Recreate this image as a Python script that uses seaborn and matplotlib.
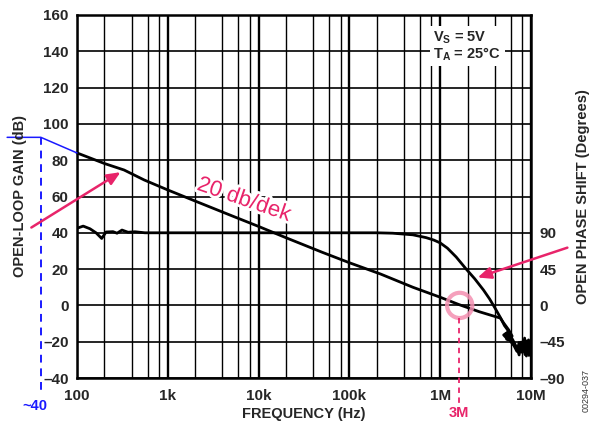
import numpy as np
import pandas as pd
import matplotlib
matplotlib.use("Agg")
import matplotlib.pyplot as plt
import matplotlib.ticker as mticker
import matplotlib.patheffects as pe
import seaborn as sns

# ---------------- data ----------------
gain_freq = [100, 200, 330, 550, 1e3, 2e3, 5e3, 1e4, 2e4, 5e4, 1e5, 2.2e5, 5e5,
             1e6, 1.6e6, 2.7e6, 4.6e6, 5.0e6, 5.7e6, 6.2e6, 5.6e6, 5.0e6, 5.6e6,
             6.3e6, 7.0e6, 7.4e6, 7.8e6, 8.1e6, 8.5e6, 8.9e6, 9.4e6, 9.9e6]
gain_db = [84, 78.2, 74.6, 69.1, 63.6, 57.5, 49.5, 43.5, 37.3, 29.3, 23.5, 17.3, 10,
           4.5, 0.5, -3.5, -7, -9.7, -13.6, -16.9, -19, -16.3, -14.6,
           -19, -23.5, -27.3, -20.2, -25.7, -18, -27.9, -19, -24.6]

phase_freq = [100, 117, 139, 162, 187, 209, 249, 276, 313, 365, 435, 560, 1e3,
              1e4, 1e5, 2e5, 3e5, 5e5, 7e5, 8.5e5, 1e6, 1.2e6, 1.5e6, 1.9e6, 2.4e6,
              3.0e6, 3.5e6, 4.0e6, 4.6e6,
              5.1e6, 5.5e6, 5.9e6, 5.4e6, 5.3e6, 6.0e6, 6.5e6, 7.0e6, 7.4e6, 7.8e6,
              8.2e6, 8.6e6, 9.0e6, 9.5e6, 9.9e6]
phase_deg = [95.6, 98.3, 95, 90, 83, 91, 91.4, 89.5, 93.4, 90.7, 91.3, 90, 90,
             90, 90, 90, 89.5, 87.5, 84, 81, 77.5, 71, 60, 46, 33,
             19, 8, -3, -15,
             -25, -30, -38, -42, -35, -45, -50, -57, -46, -58,
             -50, -61, -44, -62, -50]

# extrapolated low-frequency gain (blue)
ext_freq = [17, 40, 100]
ext_db = [92.6, 92.6, 84]

x_ticks = [100, 1e3, 1e4, 1e5, 1e6, 1e7]
x_labels = ["100", "1k", "10k", "100k", "1M", "10M"]
y_ticks = [160, 140, 120, 100, 80, 60, 40, 20, 0, -20, -40]
y_labels = ["160", "140", "120", "100", "80", "60", "40", "20", "0", "\u201320", "\u201340"]
p_ticks = [90, 45, 0, -45, -90]
p_labels = ["90", "45", "0", "\u201345", "\u201390"]

gain_df = pd.DataFrame({"f": gain_freq, "g": gain_db})
phase_df = pd.DataFrame({"f": phase_freq, "p": phase_deg})
ext_df = pd.DataFrame({"f": ext_freq, "g": ext_db})

# ---------------- style ----------------
sns.set_style("white")
plt.rcParams["font.family"] = ["Liberation Sans", "DejaVu Sans"]
plt.rcParams["font.weight"] = "bold"
plt.rcParams["mathtext.fontset"] = "custom"
plt.rcParams["mathtext.rm"] = "Liberation Sans:bold"
plt.rcParams["mathtext.bf"] = "Liberation Sans:bold"
plt.rcParams["mathtext.it"] = "Liberation Sans:bold"

W, H = 595, 426
fig = plt.figure(figsize=(W / 100, H / 100), dpi=100)
ax = fig.add_axes([77 / W, 1 - 378 / H, (531 - 77) / W, (378 - 15) / H])
ax.set_xscale("log")

# gain curve
sns.lineplot(data=gain_df, x="f", y="g", ax=ax, color="black", lw=2.0,
             sort=False, estimator=None, zorder=4)
sns.lineplot(data=ext_df, x="f", y="g", ax=ax, color="#1a1aff", lw=1.1,
             sort=False, estimator=None, zorder=4)
for l in ax.lines:
    l.set_clip_on(False)

# phase on twin axis: -90..360 deg maps to -40..160 dB
ax2 = ax.twinx()
sns.lineplot(data=phase_df, x="f", y="p", ax=ax2, color="black", lw=2.0,
             sort=False, estimator=None, zorder=4)
ax2.set_ylim(-90, 360)

ax.set_xlim(100, 1e7)
ax.set_ylim(-40, 160)
ax.set_xticks(x_ticks)
ax.set_xticklabels(x_labels)
ax.xaxis.set_minor_locator(mticker.LogLocator(base=10, subs=[2, 4, 6, 8]))
ax.xaxis.set_minor_formatter(mticker.NullFormatter())
ax.set_yticks(y_ticks)
ax.set_yticklabels(y_labels)
ax.tick_params(axis="both", which="both", length=0, labelsize=11)
ax.tick_params(axis="x", pad=8)
ax.tick_params(axis="y", pad=6)
for lab in ax.get_xticklabels() + ax.get_yticklabels():
    lab.set_fontweight("bold")

ax2.set_yticks(p_ticks)
ax2.set_yticklabels(p_labels)
ax2.tick_params(axis="y", length=0, labelsize=11, pad=6)
for lab in ax2.get_yticklabels():
    lab.set_fontweight("bold")
ax2.grid(False)
for s in ax2.spines.values():
    s.set_visible(False)

ax.grid(True, which="major", axis="x", color="black", lw=1.7)
ax.grid(True, which="minor", axis="x", color="black", lw=1.0)
ax.grid(True, which="major", axis="y", color="black", lw=1.2)
ax.set_axisbelow(True)
for s in ax.spines.values():
    s.set_color("black")
    s.set_linewidth(1.8)

ax.set_xlabel("")
ax.set_ylabel("")
ax2.set_ylabel("")

# axis labels
fig.text(20 / W, 1 - 196 / H, "OPEN-LOOP GAIN (dB)", rotation=90, ha="center",
         va="center", fontsize=10.5, fontweight="bold")
fig.text(304 / W, 1 - 414 / H, "FREQUENCY (Hz)", ha="center", va="center",
         fontsize=10.5, fontweight="bold")
fig.text(583 / W, 1 - 197 / H, "OPEN PHASE SHIFT (Degrees)", rotation=90,
         ha="center", va="center", fontsize=10.5, fontweight="bold")
fig.text(586 / W, 1 - 390 / H, "00294-037", rotation=90, ha="center",
         va="center", fontsize=6.5, fontweight="normal", color="#333333")

# conditions box
ax.text(8.4e5, 152, "V$_{S}$ = 5V\nT$_{A}$ = 25\u00b0C", ha="left",
        va="top", fontsize=10.5, fontweight="bold", linespacing=0.95,
        zorder=6,
        bbox=dict(boxstyle="square,pad=0.25", fc="white", ec="none"))

# blue dashed vertical + label
ax.plot([40, 40], [92.6, -47.7], color="#1a1aff", lw=1.4, ls=(0, (4, 3)),
        clip_on=False, zorder=5)
ax.text(34.5, -55.4, "~40", color="#1a1aff", fontsize=10.5, fontweight="bold",
        ha="center", va="center", clip_on=False)

pink = "#e8246a"
# arrows
ax.annotate("", xy=(320, 74.2), xytext=(29.6, 42.1),
            arrowprops=dict(arrowstyle="-|>,head_length=0.8,head_width=0.35",
                            color=pink, lw=1.8), annotation_clip=False, zorder=6)
ax.annotate("", xy=(2.42e6, 14.9), xytext=(2.69e7, 32.3),
            arrowprops=dict(arrowstyle="-|>,head_length=0.8,head_width=0.35",
                            color=pink, lw=1.8), annotation_clip=False, zorder=6)

# slope text
ax.text(6.9e3, 58, "20 db/dek", color=pink, fontsize=16, fontweight="normal",
        rotation=-19, ha="center", va="center", zorder=6,
        path_effects=[pe.withStroke(linewidth=4, foreground="white")])

# circle + dashed marker
ax.scatter([1.64e6], [0], s=330, facecolors="none", edgecolors="#f48fb1",
           linewidths=3, alpha=0.85, zorder=7)
ax.plot([1.6e6, 1.6e6], [-7, -53.8], color=pink, lw=1.3, ls=(0, (3, 2.5)),
        clip_on=False, zorder=7)
ax.text(1.6e6, -59.3, "3M", color=pink, fontsize=10.5, fontweight="bold",
        ha="center", va="center", clip_on=False)

fig.savefig("out.png", dpi=100)
